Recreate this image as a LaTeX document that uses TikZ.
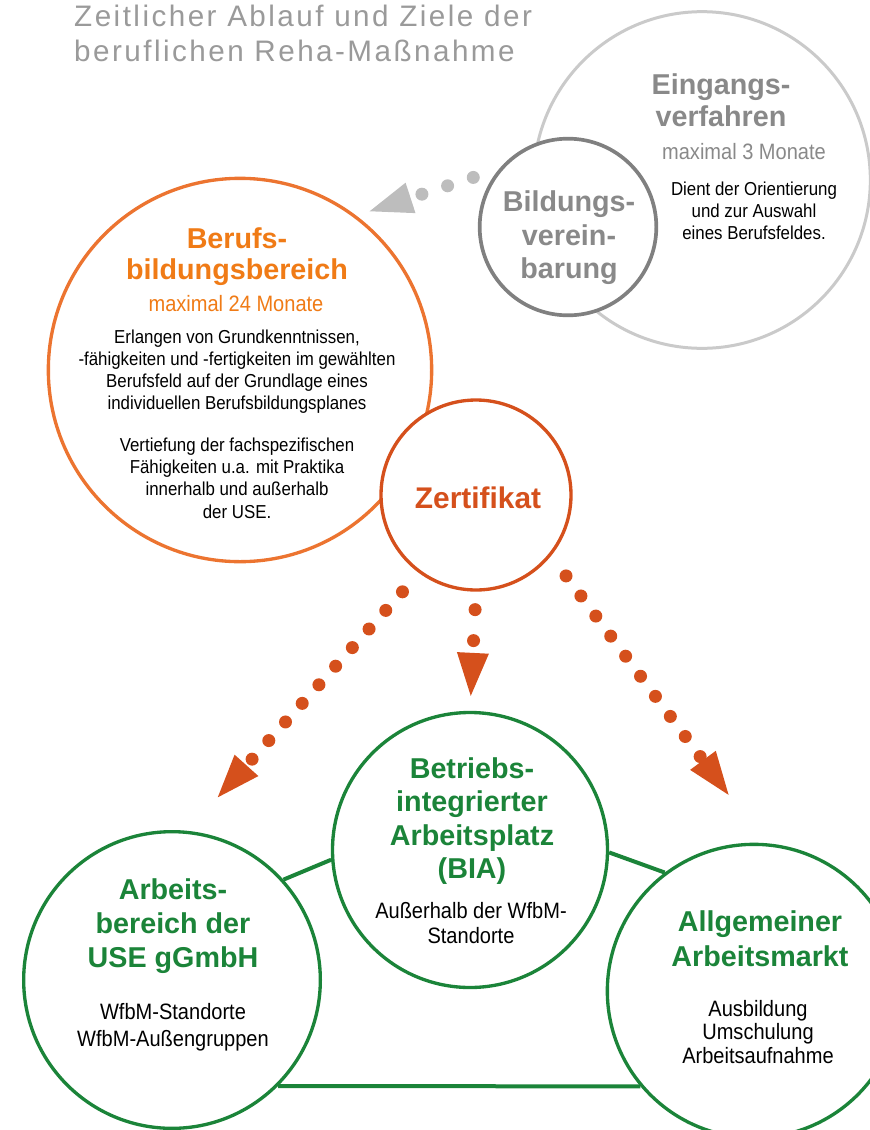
\documentclass[tikz,border=0pt]{standalone}
\usepackage{fontspec}
\setmainfont{Liberation Sans}
\newfontfamily\titelfont{Liberation Sans}[LetterSpace=8.3]
\newfontfamily\schmal{Liberation Sans}[FakeStretch=0.9]
\usepackage{tikz}
\usetikzlibrary{arrows.meta}

\definecolor{titelgrau}{HTML}{9A9A9A}
\definecolor{hellgrau}{HTML}{CACACA}
\definecolor{dunkelgrau}{HTML}{808080}
\definecolor{kopfgrau}{HTML}{898989}
\definecolor{pfeilgrau}{HTML}{BDBDBD}
\definecolor{orange}{HTML}{EC7430}
\definecolor{textorange}{HTML}{F07B16}
\definecolor{rotorange}{HTML}{D5501C}
\definecolor{gruen}{HTML}{1B8439}

\tikzset{
  kreis/.style={circle, draw, line width=1mm, fill=white, inner sep=0pt},
  kopf/.style={align=center, anchor=north, inner sep=0pt,
    font=\bfseries\fontsize{24.5}{28}\selectfont},
  dauer/.style={align=center, anchor=north, inner sep=0pt,
    font=\schmal\fontsize{19}{22}\selectfont},
  info/.style={align=center, anchor=north, inner sep=0pt,
    font=\schmal\fontsize{16}{18.8}\selectfont},
  punkte/.style={line width=3.9mm, line cap=round,
    -{Triangle[length=12.9mm, width=9.6mm, line width=0pt]}},
  verbindung/.style={draw=gruen, line width=1.2mm},
}

\begin{document}
\begin{tikzpicture}[x=0.3mm, y=-0.3mm]
\useasboundingbox (0,0) rectangle (869,1130);

% Titel
\node[anchor=north west, align=left, inner sep=0pt, text=titelgrau,
  font=\titelfont\fontsize{25.3}{29.5}\selectfont] (titel) at (74,5)
  {Zeitlicher Ablauf und Ziele der\\beruflichen Reha-Maßnahme};

% Kreise oben
\node[kreis, draw=hellgrau, line width=0.9mm, minimum size=101mm] (ein) at (702,180) {};
\node[kreis, draw=dunkelgrau, line width=1.1mm, minimum size=53mm] (bv) at (568,227) {};
\node[kreis, draw=orange, minimum size=115mm] (bb) at (240,370) {};
\node[kreis, draw=rotorange, minimum size=57mm] (zert) at (476,495) {};

% Kreise unten
\node[kreis, draw=gruen, minimum size=82.5mm] (bia) at (470,850) {};
\node[kreis, draw=gruen, minimum size=89mm] (arb) at (172,980) {};
\node[kreis, draw=gruen, minimum size=88mm] (allg) at (754,991) {};

\draw[verbindung] (arb.42) -- (bia.184);
\draw[verbindung] (bia.-1) -- (allg.127);
\draw[verbindung] (arb.-45) -- (allg.220);

% Pfeile
\draw[punkte, pfeilgrau, dash pattern=on 0pt off 8.1mm,
  shorten <=8.1mm, shorten >=4.2mm] (bv.140) -- (bb.53);
\draw[punkte, rotorange, dash pattern=on 0pt off 7.5mm,
  shorten <=7.5mm, shorten >=13.5mm] (zert.234) -- (arb.84);
\draw[punkte, rotorange, dash pattern=on 0pt off 9.3mm,
  shorten <=5.4mm, shorten >=4.5mm] (zert.south) -- (bia.north);
\draw[punkte, rotorange, dash pattern=on 0pt off 7.5mm,
  shorten <=7.5mm, shorten >=18mm] (zert.-39) -- (allg.86);

% Texte
\node[kopf, text=kopfgrau] (einKopf) at (721,73) {Eingangs-\\verfahren};
\node[dauer, text=kopfgrau] (einDauer) at (744,143) {maximal 3 Monate};
\node[info] (einText) at (754,182) {Dient der Orientierung\\und zur Auswahl\\eines Berufsfeldes.};

\node[kopf, text=kopfgrau, font=\bfseries\fontsize{24.5}{29}\selectfont] (bvKopf) at (569,190)
  {Bildungs-\\verein-\\barung};

\node[kopf, text=textorange, font=\bfseries\fontsize{24.5}{26.5}\selectfont] (bbKopf) at (237,227)
  {Berufs-\\bildungsbereich};
\node[dauer, text=textorange] (bbDauer) at (236,295) {maximal 24 Monate};
\node[info] (bbText) at (237,330)
  {Erlangen von Grundkenntnissen,\\-fähigkeiten und -fertigkeiten im gewählten\\
   Berufsfeld auf der Grundlage eines\\individuellen Berufsbildungsplanes\\[6mm]
   Vertiefung der fachspezifischen\\Fähigkeiten u.a. mit Praktika\\
   innerhalb und außerhalb\\der USE.};

\node[kopf, text=rotorange, font=\bfseries\fontsize{25.5}{29}\selectfont] (zertKopf) at (478,487) {Zertifikat};

\node[kopf, text=gruen, font=\bfseries\fontsize{24.5}{28.6}\selectfont] (biaKopf) at (472,757)
  {Betriebs-\\integrierter\\Arbeitsplatz\\(BIA)};
\node[info, font=\schmal\fontsize{19}{21.3}\selectfont] (biaText) at (471,902)
  {Außerhalb der WfbM-\\Standorte};

\node[kopf, text=gruen, font=\bfseries\fontsize{24.5}{29.4}\selectfont] (arbKopf) at (173,878)
  {Arbeits-\\bereich der\\USE gGmbH};
\node[info, font=\schmal\fontsize{19}{23}\selectfont] (arbText) at (173,1003)
  {WfbM-Standorte\\WfbM-Außengruppen};

\node[kopf, text=gruen, font=\bfseries\fontsize{24.5}{29.9}\selectfont] (allgKopf) at (760,910)
  {Allgemeiner\\Arbeitsmarkt};
\node[info, font=\schmal\fontsize{19}{20}\selectfont] (allgText) at (758,1000)
  {Ausbildung\\Umschulung\\Arbeitsaufnahme};

\end{tikzpicture}
\end{document}
